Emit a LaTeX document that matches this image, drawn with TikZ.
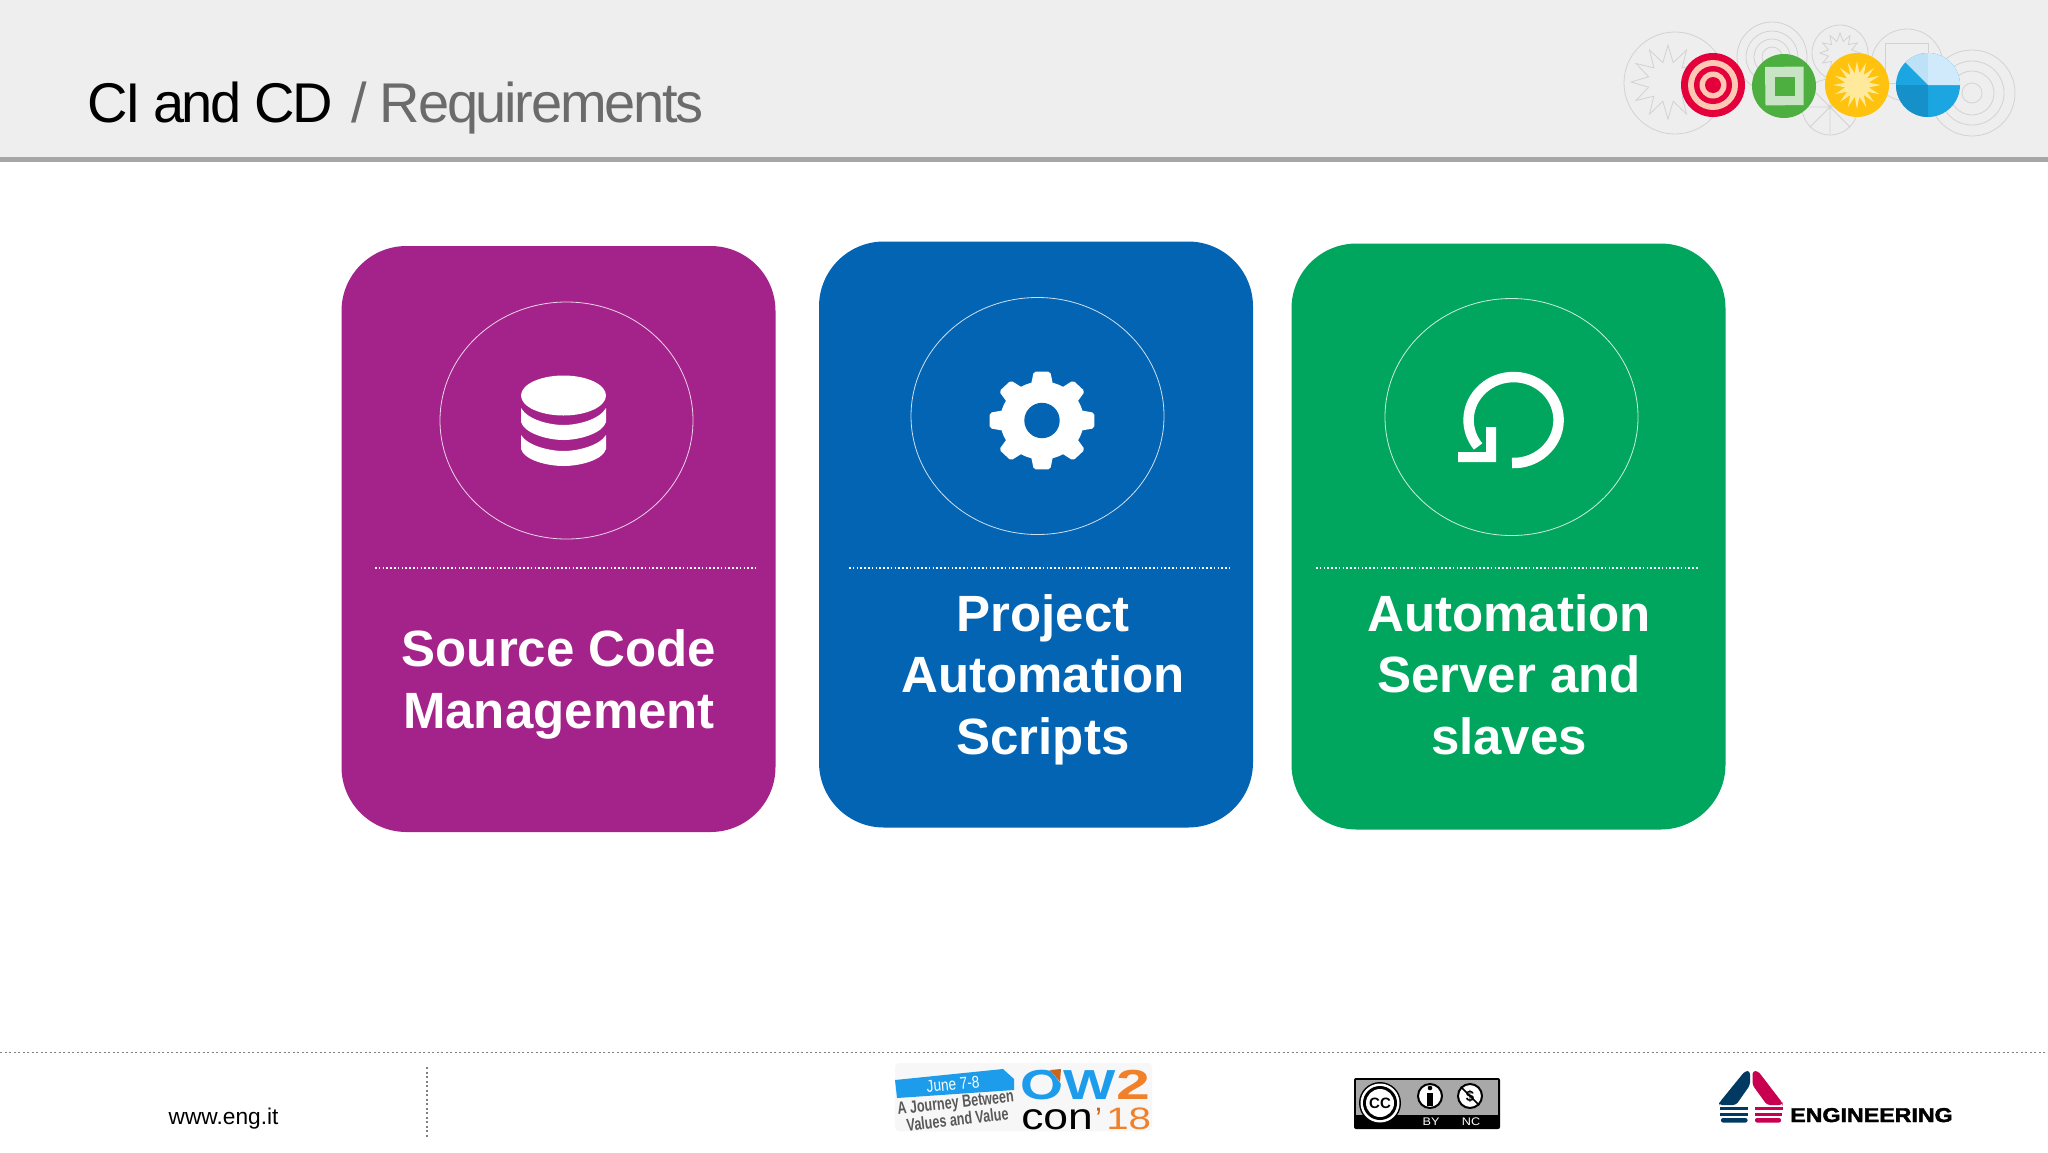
\documentclass[tikz,border=0pt]{standalone}
\usepackage{fontspec}
\setmainfont{Liberation Sans}
\definecolor{cardpurple}{HTML}{A4238B}
\definecolor{cardblue}{HTML}{0364B3}
\definecolor{cardgreen}{HTML}{00A65D}
\definecolor{headgray}{HTML}{EEEEEE}
\definecolor{rulegray}{HTML}{A6A6A6}
\definecolor{artgray}{HTML}{D2D2D2}
\definecolor{targetred}{HTML}{E4003A}
\definecolor{targetpink}{HTML}{FFC8B4}
\definecolor{squaregreen}{HTML}{4CAF3F}
\definecolor{squarelight}{HTML}{C8E4C4}
\definecolor{sunyellow}{HTML}{FFC20E}
\definecolor{sunlight}{HTML}{FFE99A}
\definecolor{piemid}{HTML}{1BA6E2}
\definecolor{piedark}{HTML}{1590C8}
\definecolor{pielight}{HTML}{BDE1F7}
\definecolor{piepale}{HTML}{D0E9FB}
\definecolor{owblue}{HTML}{1C9CEA}
\definecolor{oworange}{HTML}{F0812A}
\definecolor{owbrown}{HTML}{C8651E}
\definecolor{enginavy}{HTML}{003A63}
\definecolor{engicrimson}{HTML}{C8004F}
\tikzset{
	card/.style={rounded corners=65pt,minimum width=434pt,minimum height=586pt,inner sep=0pt},
	ring/.style={draw=white,line width=.8pt,opacity=.8},
	sepline/.style={draw=white,line width=1.6pt,dash pattern=on 1.6pt off 2.2pt},
	cardtext/.style={text=white,align=center,inner sep=0pt,font=\fontsize{51}{61.4}\selectfont\bfseries},
	art/.style={draw=artgray,line width=.8pt},
	footline/.style={draw=gray,line width=1.5pt,dash pattern=on 2pt off 2.5pt},
	licence/.style={circle,fill=white,draw=black,line width=2pt,minimum size=24pt,inner sep=0pt},
	licencetext/.style={text=white,xscale=1.15,inner sep=0pt,font=\fontsize{11}{11}\selectfont}
}
\begin{document}
\begin{tikzpicture}[x=1pt,y=-1pt]
	\useasboundingbox (0,0) rectangle (2048,1152);
	\fill[white] (0,0) rectangle (2048,1152);
	\fill[headgray] (0,0) rectangle (2048,157);
	\fill[rulegray] (0,157) rectangle (2048,162);

	\node[anchor=base west,inner sep=0pt,font=\fontsize{56}{60}\selectfont\addfontfeature{LetterSpace=-4.8}] (title) at (87,122.5) {CI and CD};
	\node[anchor=base west,inner sep=0pt,text=black!58,font=\fontsize{56}{60}\selectfont\addfontfeature{LetterSpace=-4.1}] (subtitle) at (351,122.5) {/ Requirements};

	\draw[art] (1675,83) circle (51);
	\draw[art,shift={(1668,82)}] plot[samples at={0,...,23}] (\x*15:{37-17*mod(\x,2)}) -- cycle;
	\foreach \r in {35,26,18,10} \draw[art] (1772,57) circle (\r);
	\draw[art] (1840,53) circle (28);
	\draw[art,shift={(1840,53)}] plot[samples at={0,...,23}] (\x*15:{20-8*mod(\x,2)}) -- cycle;
	\draw[art] (1907,65) circle (36);
	\draw[art] (1885,43) rectangle (1928,83);
	\draw[art] (1830,107) circle (28);
	\draw[art] (1802,107) -- (1858,107) (1830,79) -- (1830,135) (1810,87) -- (1850,127) (1810,127) -- (1850,87);
	\foreach \r in {43,32,22,10} \draw[art] (1972,93) circle (\r);

	\fill[targetred] (1713,85) circle (32);
	\fill[targetpink] (1713,85) circle (25);
	\fill[targetred] (1713,85) circle (19);
	\fill[targetpink] (1713,85) circle (13.5);
	\fill[targetred] (1713,85) circle (8);

	\fill[squaregreen] (1784,86) circle (32);
	\fill[squarelight] (1765,67) -- (1803.5,66.5) -- (1803.5,105) -- (1765.5,105.5) -- cycle;
	\fill[squaregreen] (1775,76.5) rectangle (1794.5,96);

	\fill[sunyellow] (1857,85) circle (32);
	\fill[sunlight,shift={(1857,85)}] plot[samples at={0,...,31}] (\x*11.25:{24-12*mod(\x,2)}) -- cycle;

	\fill[piemid] (1928,85) circle (32);
	\fill[piedark] (1928,85) -- (1896,85) arc[start angle=180,end angle=90,radius=32] -- cycle;
	\fill[pielight] (1928,85) -- (1928,53) arc[start angle=270,end angle=225,radius=32] -- cycle;
	\fill[piepale] (1928,85) -- (1960,85) arc[start angle=360,end angle=270,radius=32] -- cycle;

	\node[card,fill=cardpurple] (scm) at (558.5,539) {};
	\node[card,fill=cardblue] (scripts) at (1036,534.5) {};
	\node[card,fill=cardgreen] (server) at (1508.5,536.5) {};

	\draw[ring] (566.5,420.5) ellipse [x radius=126.5,y radius=118.5];
	\draw[ring] (1037.5,416) ellipse [x radius=126.5,y radius=118.5];
	\draw[ring] (1511.5,417) ellipse [x radius=126.5,y radius=118.5];

	\coordinate (scmA) at (375,568);
	\coordinate (scmB) at (756,568);
	\coordinate (scriptsA) at (849,568);
	\coordinate (scriptsB) at (1230,568);
	\coordinate (serverA) at (1316,568);
	\coordinate (serverB) at (1698,568);
	\draw[sepline] (scmA) -- (scmB);
	\draw[sepline] (scriptsA) -- (scriptsB);
	\draw[sepline] (serverA) -- (serverB);

	\fill[white] (563.5,395.5) ellipse [x radius=42.5,y radius=20];
	\fill[white] (521,408) .. controls (528,420) and (550,425) .. (563.5,425) .. controls (577,425) and (599,420) .. (606,408) -- (606,422) .. controls (603,433) and (580,440) .. (563.5,440) .. controls (547,440) and (524,433) .. (521,422) -- cycle;
	\fill[white] (521,435) .. controls (528,446) and (550,451) .. (563.5,451) .. controls (577,451) and (599,446) .. (606,435) -- (606,449) .. controls (603,460) and (580,466) .. (563.5,466) .. controls (547,466) and (524,460) .. (521,449) -- cycle;

	\begin{scope}[shift={(1042,420.5)},xscale=1.07]
		\foreach \a in {0,45,...,315}
			\fill[white,rounded corners=2pt] (\a-17:36) -- (\a-9:49.5) -- (\a+9:49.5) -- (\a+17:36) -- cycle;
		\fill[white] (0,0) circle (39);
	\end{scope}
	\fill[cardblue] (1042,420.5) circle (17.7);

	\draw[white,line width=10.5pt] (1512,463) arc[start angle=92,end angle=-218,x radius=45,y radius=43];
	\fill[white] (1486,427) -- (1496,427) -- (1496,462) -- (1458,462) -- (1458,452) -- (1486,452) -- cycle;

	\node[cardtext] (scmlabel) at (559,684.5) {Source Code\\Management};
	\node[cardtext] (scriptslabel) at (1043,679.5) {Project\\Automation\\Scripts};
	\node[cardtext] (serverlabel) at (1509,674.5) {Automation\\Server and\\slaves};

	\coordinate (footA) at (0,1052.7);
	\coordinate (footB) at (2048,1052.7);
	\coordinate (footC) at (427,1067);
	\coordinate (footD) at (427,1138);
	\draw[footline] (footA) -- (footB);
	\draw[footline] (footC) -- (footD);
	\node[anchor=base west,inner sep=0pt,font=\fontsize{22.7}{24}\selectfont] (site) at (168.5,1124) {www.eng.it};

	\fill[black!3,rounded corners=4pt] (895,1063) rectangle (1152,1131);
	\fill[owblue] (895,1080) -- (1003,1069) -- (1014,1079) -- (1014,1090) -- (897,1098) -- cycle;
	\node[rotate=5.5,xscale=.8,text=white,inner sep=0pt,font=\fontsize{17}{18}\selectfont] (june) at (953,1084) {June 7-8};
	\node[rotate=6.5,xscale=.72,text=black!65,align=center,inner sep=0pt,font=\fontsize{17.5}{15.5}\selectfont\bfseries] (journey) at (956.5,1111) {A Journey Between\\Values and Value};
	\node[anchor=base west,xscale=1.32,text=owblue,inner sep=0pt,font=\fontsize{42}{44}\selectfont\bfseries] (ow) at (1020,1099) {OW};
	\fill[black!3] (1047,1066) -- (1062,1066) -- (1062,1085) -- cycle;
	\fill[owbrown] (1050,1070) -- (1061,1069) -- (1060,1082) -- cycle;
	\node[anchor=base west,xscale=1.45,text=oworange,inner sep=0pt,font=\fontsize{42}{44}\selectfont\bfseries] (two) at (1116,1099) {2};
	\node[anchor=base west,xscale=1.2,inner sep=0pt,font=\fontsize{37}{40}\selectfont] (con) at (1021,1129) {con};
	\node[anchor=base west,text=owbrown,inner sep=0pt,font=\fontsize{31}{33}\selectfont] (apos) at (1095,1129) {’};
	\node[anchor=base west,xscale=1.3,text=oworange,inner sep=0pt,font=\fontsize{31}{33}\selectfont] (year) at (1106,1129) {18};

	\fill[black,rounded corners=2pt] (1354,1078) rectangle (1500,1129);
	\fill[black!34] (1356,1080) rectangle (1498,1115);
	\fill[black] (1380,1103) circle (21);
	\fill[white] (1380,1103) circle (19.5);
	\fill[black] (1380,1103) circle (17);
	\node[circle,fill=white,minimum size=28pt,inner sep=0pt,font=\fontsize{15}{15}\selectfont\bfseries] (cc) at (1380,1103) {CC};
	\node[licence] (by) at (1430,1096) {};
	\fill[black] (1430,1088) circle (2.3);
	\fill[black] (1427,1093) rectangle (1433,1106);
	\node[licence,font=\fontsize{15}{15}\selectfont\bfseries] (nc) at (1470,1096) {\$};
	\draw[black,line width=1.6pt] (nc.north west) -- (nc.south east);
	\node[licencetext] (bytext) at (1431,1122) {BY};
	\node[licencetext] (nctext) at (1471,1122) {NC};

	\fill[enginavy,rounded corners=3pt] (1750,1071) -- (1750,1085) -- (1736,1105) -- (1719,1105) -- (1719,1103) -- (1745,1071) -- cycle;
	\fill[enginavy] (1719.5,1107) rectangle (1747.5,1110);
	\fill[enginavy] (1720,1112.5) rectangle (1747.5,1115.5);
	\fill[enginavy,rounded corners=2pt] (1721,1118) rectangle (1747.5,1122.5);
	\fill[engicrimson,rounded corners=3pt] (1752.5,1071) -- (1752.5,1085) -- (1767,1105) -- (1782.5,1105) -- (1782.5,1103) -- (1758,1071) -- cycle;
	\fill[engicrimson] (1755,1107) rectangle (1782.5,1110);
	\fill[engicrimson] (1755,1112.5) rectangle (1782,1115.5);
	\fill[engicrimson,rounded corners=2pt] (1755,1118) rectangle (1781,1122.5);
	\node[anchor=base west,xscale=1.16,inner sep=0pt,font=\fontsize{20}{22}\selectfont\bfseries\addfontfeature{FakeBold=2}] (engi) at (1790,1122) {ENGINEERING};
\end{tikzpicture}
\end{document}
